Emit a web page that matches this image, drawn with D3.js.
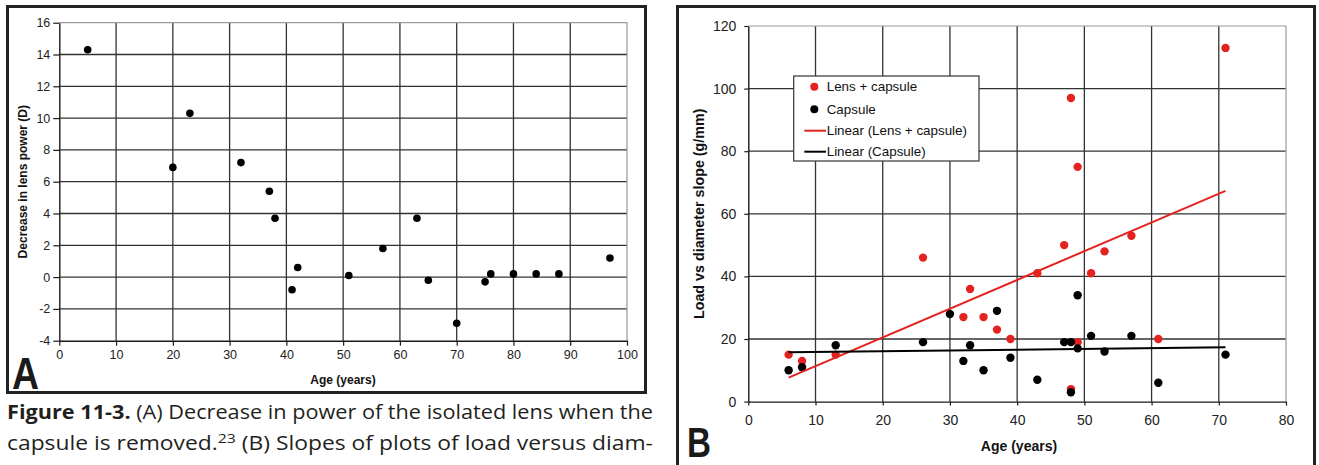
<!DOCTYPE html>
<html>
<head>
<meta charset="utf-8">
<script src="https://cdn.jsdelivr.net/npm/d3@7"></script>
<style>
  html, body { margin: 0; padding: 0; background: #fff; }
  svg { display: block; }
</style>
</head>
<body>
<svg id="chart" width="1319" height="465"></svg>
<script>
// ---------- Panel A data ----------
const agesA = [5, 20, 23, 32, 37, 38, 41, 42, 51, 57, 63, 65, 70, 75, 76, 80, 84, 88, 97];
const powerDecreaseA = [14.3, 6.9, 10.3, 7.2, 5.4, 3.7, -0.8, 0.6, 0.1, 1.8, 3.7, -0.2, -2.9, -0.3, 0.2, 0.2, 0.2, 0.2, 1.2];
const xTicksA = [0, 10, 20, 30, 40, 50, 60, 70, 80, 90, 100];
const yTicksA = [-4, -2, 0, 2, 4, 6, 8, 10, 12, 14, 16];

// ---------- Panel B data ----------
const lensCapsuleAges   = [6, 8, 13, 26, 32, 33, 35, 37, 39, 43, 47, 48, 48, 49, 49, 51, 53, 57, 61, 71];
const lensCapsuleSlopes = [15, 13, 15, 46, 27, 36, 27, 23, 20, 41, 50, 97, 4, 19, 75, 41, 48, 53, 20, 113];
const capsuleAges   = [6, 8, 13, 26, 30, 32, 33, 35, 37, 39, 43, 47, 48, 48, 49, 49, 51, 53, 57, 61, 71];
const capsuleSlopes = [10, 11, 18, 19, 28, 13, 18, 10, 29, 14, 7, 19, 19, 3, 34, 17, 21, 16, 21, 6, 15];
const xTicksB = [0, 10, 20, 30, 40, 50, 60, 70, 80];
const yTicksB = [0, 20, 40, 60, 80, 100, 120];
const legendLabels = ["Lens + capsule", "Capsule", "Linear (Lens + capsule)", "Linear (Capsule)"];

const RED = "#e42320";
const DARK = "#1a1a1a";
const GRID = "#333333";
const CHART_FONT = "'Liberation Sans', Arial, sans-serif";
const CAPTION_FONT = "'Open Sans', 'Noto Sans', sans-serif";

const svg = d3.select("#chart");

function linReg(xs, ys) {
  const n = xs.length;
  const mx = d3.mean(xs), my = d3.mean(ys);
  let sxy = 0, sxx = 0;
  for (let i = 0; i < n; i++) { sxy += (xs[i] - mx) * (ys[i] - my); sxx += (xs[i] - mx) ** 2; }
  const m = sxy / sxx;
  return { m, b: my - m * mx };
}

function drawPanel(g, cfg) {
  const { x, y, xTicks, yTicks, fontSize, xTickSize, yTickSize, xPad, yPad } = cfg;
  const [x0, x1] = x.range();
  const [y0, y1] = y.range();
  // gridlines
  g.append("g").selectAll("line").data(yTicks.slice(1, -1)).join("line")
    .attr("x1", x0).attr("x2", x1)
    .attr("y1", d => y(d)).attr("y2", d => y(d))
    .attr("stroke", GRID).attr("stroke-width", 1.3);
  g.append("g").selectAll("line").data(xTicks.slice(1, -1)).join("line")
    .attr("y1", y0).attr("y2", y1)
    .attr("x1", d => x(d)).attr("x2", d => x(d))
    .attr("stroke", GRID).attr("stroke-width", 1.3);
  // plot area top/right border (light gray)
  g.append("path")
    .attr("d", `M${x0},${y1}H${x1}V${y0}`)
    .attr("fill", "none").attr("stroke", "#9a9a9a").attr("stroke-width", 1.2);

  // axes
  const fmt = d => String(d);
  const ax = g.append("g").attr("transform", `translate(0,${y0})`)
    .call(d3.axisBottom(x).tickValues(xTicks).tickFormat(fmt).tickSize(xTickSize).tickPadding(xPad).tickSizeOuter(0));
  const ay = g.append("g").attr("transform", `translate(${x0},0)`)
    .call(d3.axisLeft(y).tickValues(yTicks).tickFormat(fmt).tickSize(yTickSize).tickPadding(yPad).tickSizeOuter(0));
  [ax, ay].forEach(a => {
    a.select(".domain").attr("stroke", DARK).attr("stroke-width", 1.4);
    a.selectAll(".tick line").attr("stroke", DARK).attr("stroke-width", 1.2);
    a.selectAll(".tick text").attr("fill", "#222").attr("font-size", fontSize).attr("font-family", CHART_FONT);
  });
}

// ================= Panel A =================
const gA = svg.append("g");
gA.append("rect").attr("x", 7.5).attr("y", 6.5).attr("width", 638).attr("height", 386)
  .attr("fill", "#fff").attr("stroke", "#222").attr("stroke-width", 3);

const xA = d3.scaleLinear().domain([0, 100]).range([59.3, 627]);
const yA = d3.scaleLinear().domain([-4, 16]).range([340.7, 22.7]);
drawPanel(gA, { x: xA, y: yA, xTicks: xTicksA, yTicks: yTicksA, fontSize: 12.5, xTickSize: 5, yTickSize: 6, xPad: 4, yPad: 3 });

gA.append("g").selectAll("circle").data(agesA.map((a, i) => [a, powerDecreaseA[i]])).join("circle")
  .attr("cx", d => xA(d[0])).attr("cy", d => yA(d[1])).attr("r", 3.8).attr("fill", "#000");

gA.append("text").attr("x", 343).attr("y", 383.5).attr("text-anchor", "middle")
  .attr("font-family", CHART_FONT).attr("font-weight", "bold").attr("font-size", 12).attr("fill", "#111")
  .text("Age (years)");
gA.append("text").attr("transform", `translate(27,${(yA.range()[0] + yA.range()[1]) / 2}) rotate(-90)`)
  .attr("text-anchor", "middle")
  .attr("font-family", CHART_FONT).attr("font-weight", "bold").attr("font-size", 12).attr("fill", "#111")
  .text("Decrease in lens power (D)");
gA.append("text").attr("x", 12).attr("y", 389)
  .attr("font-family", CHART_FONT).attr("font-weight", "bold").attr("font-size", 44).attr("fill", "#1a1a1a")
  .attr("textLength", 27).attr("lengthAdjust", "spacingAndGlyphs")
  .text("A");

// ================= Panel B =================
const gB = svg.append("g");
gB.append("rect").attr("x", 677.5).attr("y", 6.5).attr("width", 637).attr("height", 470)
  .attr("fill", "#fff").attr("stroke", "#222").attr("stroke-width", 3);

const xB = d3.scaleLinear().domain([0, 80]).range([748.3, 1286]);
const yB = d3.scaleLinear().domain([0, 120]).range([401.6, 26]);
drawPanel(gB, { x: xB, y: yB, xTicks: xTicksB, yTicks: yTicksB, fontSize: 14, xTickSize: 4, yTickSize: 4, xPad: 9.5, yPad: 8 });

gB.append("g").selectAll("circle").data(lensCapsuleAges.map((a, i) => [a, lensCapsuleSlopes[i]])).join("circle")
  .attr("cx", d => xB(d[0])).attr("cy", d => yB(d[1])).attr("r", 4.2).attr("fill", RED);
gB.append("g").selectAll("circle").data(capsuleAges.map((a, i) => [a, capsuleSlopes[i]])).join("circle")
  .attr("cx", d => xB(d[0])).attr("cy", d => yB(d[1])).attr("r", 4.2).attr("fill", "#000");

function trend(xs, ys, color) {
  const { m, b } = linReg(xs, ys);
  const ext = d3.extent(xs);
  gB.append("line")
    .attr("x1", xB(ext[0])).attr("y1", yB(m * ext[0] + b))
    .attr("x2", xB(ext[1])).attr("y2", yB(m * ext[1] + b))
    .attr("stroke", color).attr("stroke-width", 2);
}
trend(lensCapsuleAges, lensCapsuleSlopes, RED);
trend(capsuleAges, capsuleSlopes, "#000");

// legend
const lg = gB.append("g");
lg.append("rect").attr("x", 793.7).attr("y", 76).attr("width", 185.3).attr("height", 85)
  .attr("fill", "#fff").attr("stroke", "#333").attr("stroke-width", 1.2);
const rowsY = [86.7, 109.3, 130.7, 151.7];
legendLabels.forEach((lab, i) => {
  if (i < 2) {
    lg.append("circle").attr("cx", 814.3).attr("cy", rowsY[i]).attr("r", 4)
      .attr("fill", i === 0 ? RED : "#000");
  } else {
    lg.append("line").attr("x1", 804.3).attr("x2", 826).attr("y1", rowsY[i]).attr("y2", rowsY[i])
      .attr("stroke", i === 2 ? RED : "#000").attr("stroke-width", 2);
  }
  lg.append("text").attr("x", 826.7).attr("y", rowsY[i]).attr("dy", "0.35em")
    .attr("font-family", CHART_FONT).attr("font-size", 13.4).attr("fill", "#111")
    .text(lab);
});

gB.append("text").attr("x", 1019).attr("y", 451).attr("text-anchor", "middle")
  .attr("font-family", CHART_FONT).attr("font-weight", "bold").attr("font-size", 14).attr("fill", "#111")
  .text("Age (years)");
gB.append("text").attr("transform", `translate(704,${(yB.range()[0] + yB.range()[1]) / 2}) rotate(-90)`)
  .attr("text-anchor", "middle")
  .attr("font-family", CHART_FONT).attr("font-weight", "bold").attr("font-size", 14.3).attr("fill", "#111")
  .text("Load vs diameter slope (g/mm)");
gB.append("text").attr("x", 687).attr("y", 457)
  .attr("font-family", CHART_FONT).attr("font-weight", "bold").attr("font-size", 42).attr("fill", "#1a1a1a")
  .attr("textLength", 24).attr("lengthAdjust", "spacingAndGlyphs")
  .text("B");

// ================= Caption =================
const cap1 = svg.append("text").attr("x", 7).attr("y", 419)
  .attr("font-family", CAPTION_FONT).attr("font-size", 19.5).attr("fill", "#231f20")
  .attr("textLength", 646).attr("lengthAdjust", "spacingAndGlyphs");
cap1.append("tspan").attr("font-weight", "bold").text("Figure 11-3.");
cap1.append("tspan").text(" (A) Decrease in power of the isolated lens when the");

const cap2 = svg.append("text").attr("x", 7).attr("y", 450)
  .attr("font-family", CAPTION_FONT).attr("font-size", 19.5).attr("fill", "#231f20")
  .attr("textLength", 646).attr("lengthAdjust", "spacingAndGlyphs");
cap2.append("tspan").text("capsule is removed.");
cap2.append("tspan").attr("font-size", 13.5).attr("dy", -7).text("23");
cap2.append("tspan").attr("dy", 7).text(" (B) Slopes of plots of load versus diam-");
</script>
</body>
</html>
